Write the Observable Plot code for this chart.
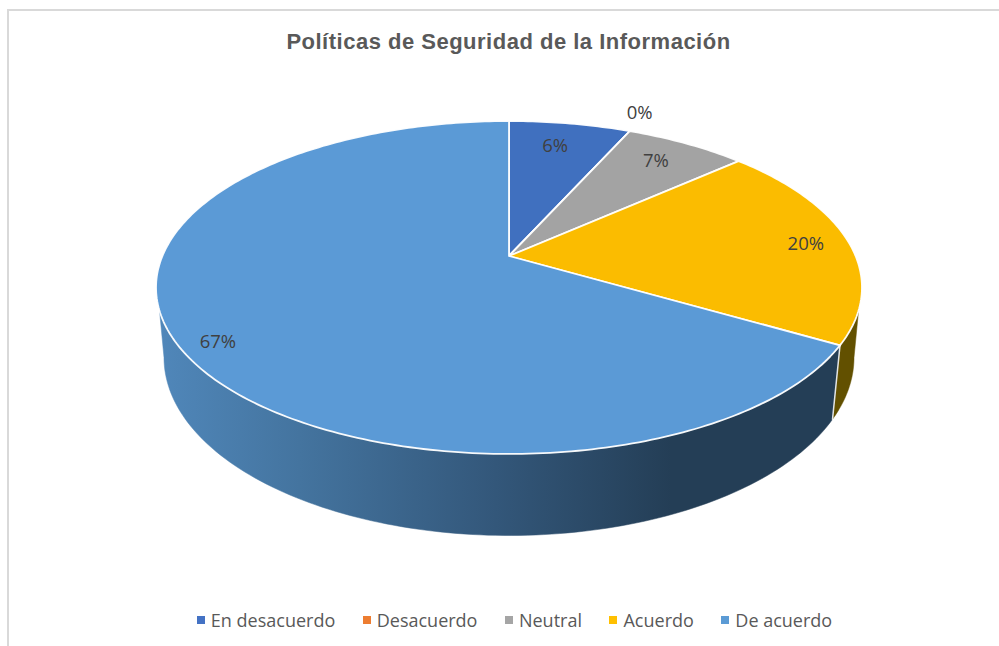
<!DOCTYPE html>
<html lang="es">
<head>
<meta charset="utf-8">
<script src="https://cdn.jsdelivr.net/npm/d3@7"></script>
<script src="https://cdn.jsdelivr.net/npm/@observablehq/plot@0.6"></script>
<style>
  html, body { margin: 0; padding: 0; background: #fff; overflow: hidden; }
  #page { position: relative; width: 999px; height: 646px; }
  #frame { position: absolute; left: 7px; top: 9px; right: 0; bottom: 0;
           border-left: 2px solid #d9d9d9; border-top: 2px solid #d9d9d9; pointer-events: none; }
  #title { height: 60px; box-sizing: border-box; padding-top: 29px; text-align: center;
           width: 1017px; font: bold 22px/26px "Liberation Sans", Arial, sans-serif;
           letter-spacing: 0.5px; color: #595959; }
  #chart svg { display: block; }
  #legend { display: flex; justify-content: center; align-items: center; gap: 27.5px;
            height: 60px; width: 1029px; font: 18px/22px "Open Sans", sans-serif;
            color: #595959; }
  #legend span.item { display: inline-flex; align-items: center; gap: 6px; }
  #legend i { display: inline-block; width: 8px; height: 8px; }
</style>
</head>
<body>
<div id="page">
  <div id="title"></div>
  <div id="chart"></div>
  <div id="legend"></div>
  <div id="frame"></div>
</div>
<script>
const titleText = "Políticas de Seguridad de la Información";
const categories = ["En desacuerdo", "Desacuerdo", "Neutral", "Acuerdo", "De acuerdo"];
const values = [6.7, 0, 6.7, 20, 66.6];
const valueLabels = ["6%", "0%", "7%", "20%", "67%"];
const colors = ["#4472c4", "#ed7d31", "#a5a5a5", "#ffc000", "#5b9bd5"];
const topColors = ["#4070bf", "#ed7d31", "#a3a3a3", "#fbbc00", "#5b9ad6"];

// Tilted-disc geometry, in page pixels (style, not data)
const apex = {x: 508.5, y: 255.5}, A = 346.6, B = 160.5, k = 0.1892;
const rimTop = {cx: 508.5, cy: 287, rx: 353, ry: 166.5};
const rimBottom = {cx: 508.5, cy: 357, rx: 345, ry: 178};
const labelRadius = [0.80, 1.16, 0.82, 0.872, 0.905];
const labelAngle = [11, 23, 35.6, 85, 237.4];
const wallColors = {3: "#625000", 4: "url(#wallGradient)"};
const wallStops = [[0, "#5087ba"], [0.21, "#44749f"], [0.5, "#33577a"], [0.76, "#243e56"], [1, "#243e56"]];

const disc = (theta, r = 1) => {
  const d = 1 + k * r * Math.cos(theta);
  return {x: apex.x + A * r * Math.sin(theta) / d, y: apex.y - B * r * Math.cos(theta) / d};
};
const rimAngle = theta => {
  const p = disc(theta);
  let a = Math.atan2((p.x - rimTop.cx) / rimTop.rx, -(p.y - rimTop.cy) / rimTop.ry);
  return a < 0 ? a + 2 * Math.PI : a;
};
const onRim = (e, a) => ({x: e.cx + e.rx * Math.sin(a), y: e.cy - e.ry * Math.cos(a)});
const steps = (a0, a1, n) => d3.range(n + 1).map(i => a0 + (a1 - a0) * i / n);

const total = d3.sum(values);
let acc = 0;
const slices = values.map((v, i) => {
  const start = acc / total * 2 * Math.PI;
  acc += v;
  const end = acc / total * 2 * Math.PI;
  return {i, start, end};
});

const topPolygon = s => {
  const n = Math.max(2, Math.ceil((s.end - s.start) * 60));
  const rim = steps(s.start, s.end, n).map(t => disc(t));
  return [apex, ...rim, apex];
};
// Visible side: only the part of the rim that faces the viewer
const sideFrom = Math.PI / 2, sideTo = 3 * Math.PI / 2;
const wallPolygon = s => {
  const a0 = Math.max(rimAngle(s.start), sideFrom);
  const a1 = s.end >= 2 * Math.PI - 1e-6 ? sideTo : Math.min(rimAngle(s.end), sideTo);
  const top = steps(Math.max(a0, 1.71), Math.min(a1, 4.57), 120).map(a => onRim(rimTop, a));
  const bottom = steps(a1, a0, 120).map(a => onRim(rimBottom, a));
  return [...top, ...bottom, top[0]];
};

d3.select("#title").text(titleText);

const labelRows = slices.map(s => ({
  ...disc(labelAngle[s.i] * Math.PI / 180, labelRadius[s.i]),
  text: valueLabels[s.i]
}));

const gradientDefs = () => {
  const defs = d3.create("svg:defs");
  const g = defs.append("linearGradient").attr("id", "wallGradient")
    .attr("gradientUnits", "userSpaceOnUse")
    .attr("x1", 157).attr("x2", 833).attr("y1", 0).attr("y2", 0);
  wallStops.forEach(([o, c]) => g.append("stop").attr("offset", o).attr("stop-color", c));
  return defs.node();
};

const line = (pts, fill, strokeWidth) => Plot.line(pts, {
  x: "x", y: "y", fill, stroke: "#fff", strokeWidth, strokeOpacity: 0.95, curve: "linear"
});

const plot = Plot.plot({
  width: 999, height: 530, margin: 0,
  x: {domain: [0, 999], range: [0, 999], axis: null},
  y: {domain: [60, 590], range: [0, 530], axis: null},
  style: {background: "transparent", overflow: "visible"},
  marks: [
    gradientDefs,
    ...slices.filter(s => wallColors[s.i]).map(s => Plot.line(wallPolygon(s), {
      x: "x", y: "y", fill: wallColors[s.i], stroke: wallColors[s.i], strokeWidth: 0.5, curve: "linear"
    })),
    // white edge where the blue and yellow walls meet
    Plot.line([onRim(rimTop, rimAngle(slices[3].end)), onRim(rimBottom, rimAngle(slices[3].end))], {
      x: "x", y: "y", stroke: "#fff", strokeWidth: 1.5, strokeOpacity: 0.85
    }),
    ...slices.map(s => line(topPolygon(s), topColors[s.i], 1.8)),
    Plot.text(labelRows, {
      x: "x", y: "y", text: "text", fontSize: 18.5, fill: "#404040",
      fontFamily: "'Open Sans', sans-serif"
    })
  ]
});
document.getElementById("chart").append(plot);

const legend = d3.select("#legend");
categories.forEach((c, i) => {
  const item = legend.append("span").attr("class", "item");
  item.append("i").style("background", colors[i]);
  item.append("span").text(c);
});
</script>
</body>
</html>
